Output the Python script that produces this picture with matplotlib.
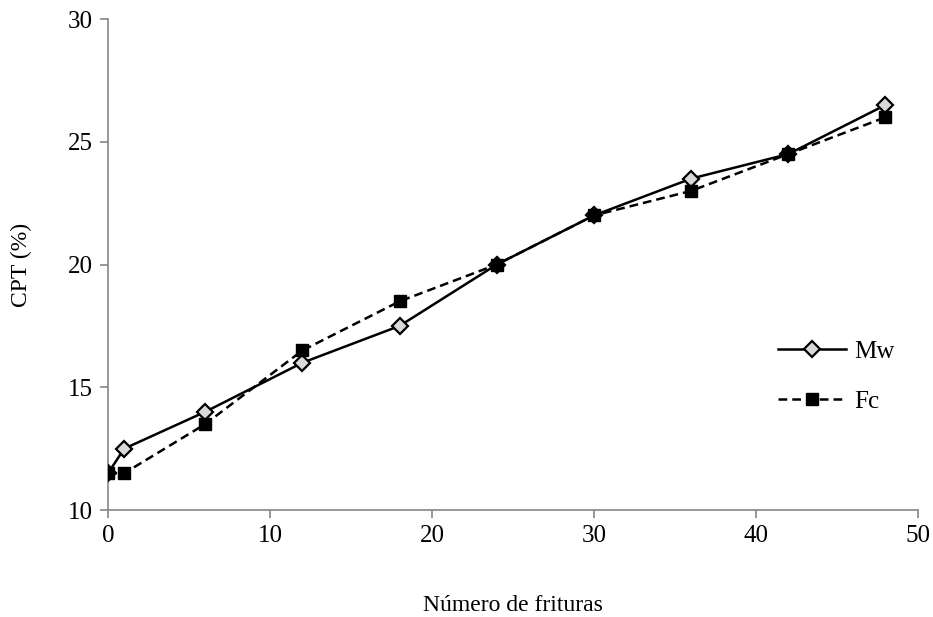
import matplotlib
matplotlib.use("Agg")
import matplotlib.pyplot as plt

plt.rcParams['font.family'] = ['Liberation Serif', 'DejaVu Serif']

frituras = [0, 1, 6, 12, 18, 24, 30, 36, 42, 48]
mw = [11.5, 12.5, 14, 16, 17.5, 20, 22, 23.5, 24.5, 26.5]
fc = [11.5, 11.5, 13.5, 16.5, 18.5, 20, 22, 23, 24.5, 26]

fig = plt.figure(figsize=(9.33, 6.17), dpi=100)
ax = fig.add_axes([0.1158, 0.1734, 0.868, 0.7957])

ax.plot(frituras, mw, color="black", lw=1.8, ls="-", marker="D", markersize=8,
        markerfacecolor="#d9d9d9", markeredgecolor="black", markeredgewidth=1.6,
        label="Mw", zorder=3)
ax.plot(frituras, fc, color="black", lw=1.8, ls=(0, (3.5, 2)), marker="s", markersize=8.5,
        markerfacecolor="black", markeredgecolor="black", label="Fc", zorder=4)

ax.set_xlim(0, 50)
ax.set_ylim(10, 30)
ax.set_xticks([0, 10, 20, 30, 40, 50])
ax.set_yticks([10, 15, 20, 25, 30])

for side in ["top", "right"]:
    ax.spines[side].set_visible(False)
for side in ["left", "bottom"]:
    ax.spines[side].set_color("#868686")
    ax.spines[side].set_linewidth(1.2)
ax.tick_params(direction="out", length=6, width=1.2, color="#868686",
               labelsize=18, labelcolor="black", pad=5)

ax.set_xlabel("Número de frituras", fontsize=17, labelpad=34)
ax.set_ylabel("CPT (%)", fontsize=17, labelpad=26)

ax.legend(loc="center left", bbox_to_anchor=(0.799, 0.272), frameon=False,
          fontsize=18, labelspacing=1.1, handlelength=2.75, handletextpad=0.3)

fig.savefig("out.png", dpi=100)
